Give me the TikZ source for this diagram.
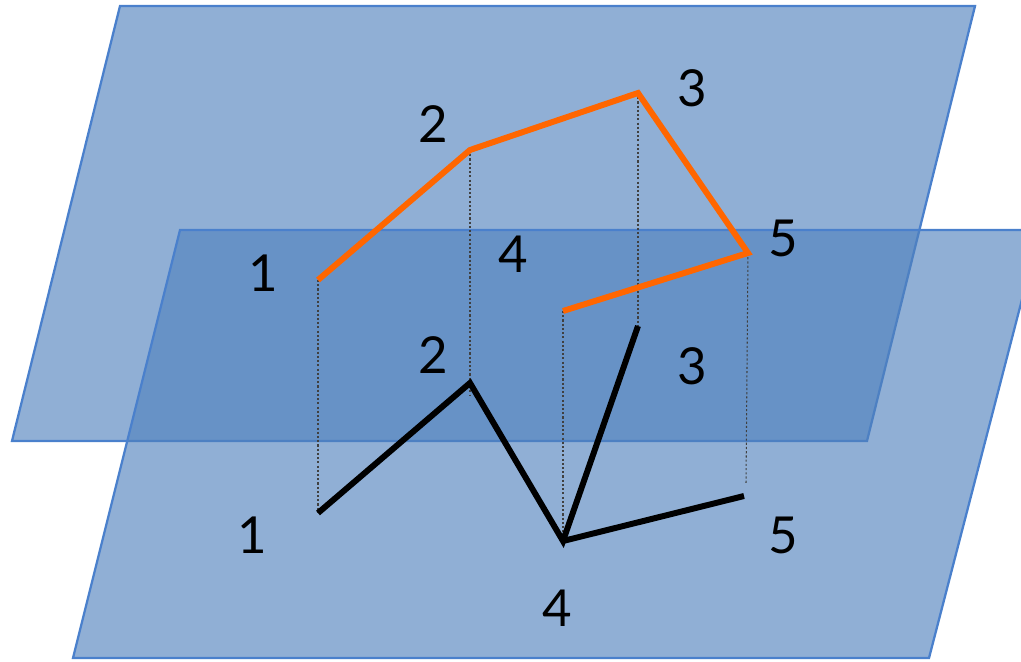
\documentclass[tikz,border=0pt]{standalone}
\usepackage{fontspec}
\setmainfont{Lato}
\usepackage{xcolor}
\usepackage{tikz}

\definecolor{planefill}{RGB}{79,129,189}
\definecolor{planeedge}{RGB}{74,128,204}
\definecolor{curveorange}{RGB}{255,102,0}

\tikzset{
  plane/.style={fill=planefill, fill opacity=0.63, draw=planeedge, line width=1.3pt},
  proj/.style={draw=black!75, line width=0.6pt, dash pattern=on 1.2pt off 1.2pt},
  upper/.style={draw=curveorange, line width=3.4pt, line join=miter},
  lower/.style={draw=black, line width=3.4pt, line join=miter},
  num/.style={inner sep=0pt, outer sep=0pt, font=\fontsize{29}{29}\selectfont}
}

\begin{document}
\begin{tikzpicture}[x=0.02cm, y=-0.02cm]
  \useasboundingbox (0,0) rectangle (1021,662);
  \clip (0,0) rectangle (1021,662);

  % the two planes
  \path[plane] (120,6) -- (975,6) -- (867,441) -- (12,441) -- cycle;
  \path[plane] (180,230) -- (1040,230) -- (929,658) -- (73,658) -- cycle;

  % vertices
  \coordinate (o1) at (318,280);
  \coordinate (o2) at (470,150);
  \coordinate (o3) at (638,93);
  \coordinate (o4) at (563,311);
  \coordinate (o5) at (748,253);
  \coordinate (b1) at (318,513);
  \coordinate (b2) at (470,383);
  \coordinate (b3) at (638,326);
  \coordinate (b4) at (563,541);
  \coordinate (b5) at (744,496);
  \coordinate (d2) at (470,395);
  \coordinate (d5) at (746,484);

  % projection lines
  \draw[proj] (o1) -- (b1);
  \draw[proj] (o2) -- (d2);
  \draw[proj] (o3) -- (b3);
  \draw[proj] (o4) -- (b4);
  \draw[proj] (o5) -- (d5);

  % the two curves
  \draw[upper] (o1) -- (o2) -- (o3) -- (o5) -- (o4);
  \draw[lower] (b1) -- (b2) -- (b4) -- (b3);
  \draw[lower] (b4) -- (b5);

  % labels
  \node[num] (lo1) at (263,273) {1};
  \node[num] (lo2) at (433,124) {2};
  \node[num] (lo3) at (692,88) {3};
  \node[num] (lo4) at (513,254) {4};
  \node[num] (lo5) at (783,238) {5};
  \node[num] (lb1) at (252,535) {1};
  \node[num] (lb2) at (433,355) {2};
  \node[num] (lb3) at (692,366) {3};
  \node[num] (lb4) at (557,608) {4};
  \node[num] (lb5) at (783,535) {5};
\end{tikzpicture}
\end{document}
